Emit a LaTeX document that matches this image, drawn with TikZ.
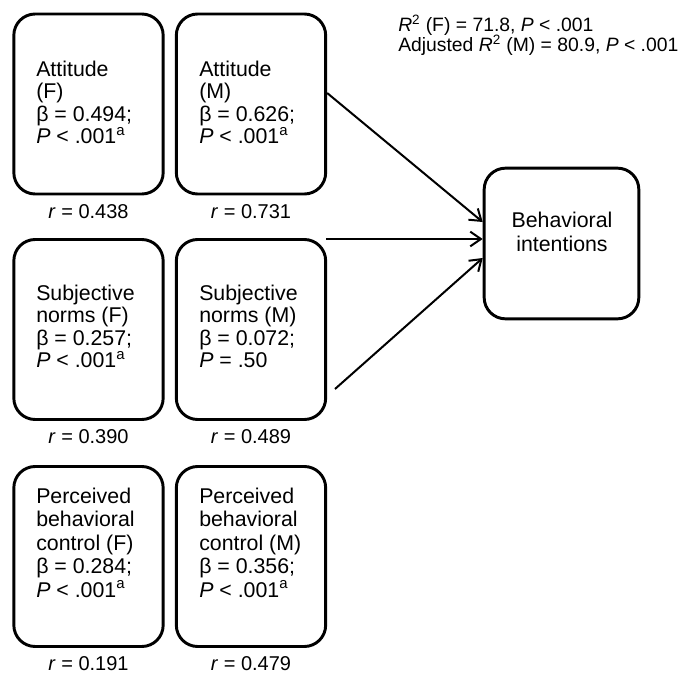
\documentclass[tikz,border=0pt]{standalone}
\usepackage{fontspec}
\setmainfont{Liberation Sans}
\usetikzlibrary{arrows.meta}
\usetikzlibrary{calc}

\begin{document}
\begin{tikzpicture}[x=0.75pt, y=-0.75pt, label distance=6.5pt,
    box/.style={draw, line width=2.2pt, rounded corners=16pt, inner sep=0pt, minimum width=112pt, minimum height=135pt},
    txt/.style={align=left, inner sep=0pt, anchor=north west, font=\fontsize{16}{16.8}\selectfont},
    lbl/.style={font=\fontsize{15}{15}\selectfont, inner sep=0pt},
    arr/.style={line width=1.5pt, -{Straight Barb[length=8pt, width=11pt]}}]
  \useasboundingbox (0,0) rectangle (682,674);

  \node[box, label={[lbl]below:{\textit{r} = 0.438}}] (attF) at (88.5,104) {};
  \node[box, label={[lbl]below:{\textit{r} = 0.731}}] (attM) at (251,104) {};
  \node[box, label={[lbl]below:{\textit{r} = 0.390}}] (snF) at (88.5,329.5) {};
  \node[box, label={[lbl]below:{\textit{r} = 0.489}}] (snM) at (251,329.5) {};
  \node[box, label={[lbl]below:{\textit{r} = 0.191}}] (pbcF) at (88.5,556.5) {};
  \node[box, label={[lbl]below:{\textit{r} = 0.479}}] (pbcM) at (251,556.5) {};
  \node[box, minimum width=116pt, minimum height=113pt] (BI) at (561.5,243.5) {};

  \node[txt] (attFtxt) at (36,60.5) {Attitude\\(F)\\β = 0.494;\\\textit{P} < .001\textsuperscript{a}};
  \node[txt] (attMtxt) at (199,60.5) {Attitude\\(M)\\β = 0.626;\\\textit{P} < .001\textsuperscript{a}};
  \node[txt] (snFtxt) at (36,284.5) {Subjective\\norms (F)\\β = 0.257;\\\textit{P} < .001\textsuperscript{a}};
  \node[txt] (snMtxt) at (199,284.5) {Subjective\\norms (M)\\β = 0.072;\\\textit{P} = .50};
  \node[txt, font=\fontsize{16}{17.6}\selectfont] (pbcFtxt) at (36,487.5) {Perceived\\behavioral\\control (F)\\β = 0.284;\\\textit{P} < .001\textsuperscript{a}};
  \node[txt, font=\fontsize{16}{17.6}\selectfont] (pbcMtxt) at (199,487.5) {Perceived\\behavioral\\control (M)\\β = 0.356;\\\textit{P} < .001\textsuperscript{a}};
  \node[align=center, inner sep=0pt, anchor=north, font=\fontsize{16}{18}\selectfont] (BItxt) at (562,211.5) {Behavioral\\intentions};

  \node[txt, font=\fontsize{14.5}{15.5}\selectfont] (rsq) at (398,14.5) {\textit{R}\textsuperscript{2} (F) = 71.8, \textit{P} < .001\\Adjusted \textit{R}\textsuperscript{2} (M) = 80.9, \textit{P} < .001};

  % free ends of the middle and lower arrows
  \coordinate (midS) at (326,239);
  \coordinate (lowS) at (335,389);

  \draw[arr] ($(attM.east)+(0,-11)$) -- ($(BI.west)+(0,-21.5)$);
  \draw[arr] (midS) -- ($(BI.west)+(0,-4.5)$);
  \draw[arr] (lowS) -- ($(BI.west)+(0,14.5)$);
\end{tikzpicture}
\end{document}
